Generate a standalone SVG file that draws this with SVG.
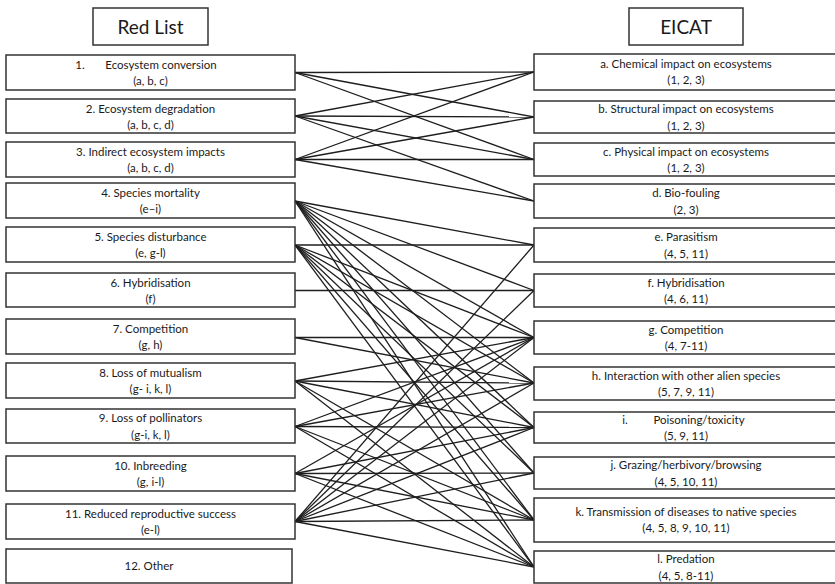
<svg xmlns="http://www.w3.org/2000/svg" width="835" height="584" viewBox="0 0 835 584">
<style>
.bx{fill:#fff;stroke:#333;stroke-width:1.5}
.t{font-family:Lato,"Open Sans",sans-serif;font-size:11.5px;fill:#1a1a1a;text-anchor:middle}
.h{font-family:Lato,"Open Sans",sans-serif;font-size:19px;fill:#1a1a1a;text-anchor:middle}
.c line{stroke:#1e1e1e;stroke-width:1.3}
</style>
<rect width="835" height="584" fill="#fff"/>
<g id="connectors" class="c">
<line x1="295" y1="72.5" x2="534" y2="72"/>
<line x1="295" y1="72.5" x2="534" y2="117"/>
<line x1="295" y1="72.5" x2="534" y2="159.5"/>
<line x1="295" y1="116" x2="534" y2="72"/>
<line x1="295" y1="116" x2="534" y2="117"/>
<line x1="295" y1="116" x2="534" y2="159.5"/>
<line x1="295" y1="116" x2="534" y2="201"/>
<line x1="295" y1="159.5" x2="534" y2="72"/>
<line x1="295" y1="159.5" x2="534" y2="117"/>
<line x1="295" y1="159.5" x2="534" y2="159.5"/>
<line x1="295" y1="159.5" x2="534" y2="201"/>
<line x1="295" y1="201" x2="534" y2="245"/>
<line x1="295" y1="201" x2="534" y2="290.5"/>
<line x1="295" y1="201" x2="534" y2="337.5"/>
<line x1="295" y1="201" x2="534" y2="383"/>
<line x1="295" y1="201" x2="534" y2="427.5"/>
<line x1="295" y1="201" x2="534" y2="473"/>
<line x1="295" y1="201" x2="534" y2="520"/>
<line x1="295" y1="201" x2="534" y2="567"/>
<line x1="295" y1="245" x2="534" y2="245"/>
<line x1="295" y1="245" x2="534" y2="337.5"/>
<line x1="295" y1="245" x2="534" y2="383"/>
<line x1="295" y1="245" x2="534" y2="427.5"/>
<line x1="295" y1="245" x2="534" y2="473"/>
<line x1="295" y1="245" x2="534" y2="520"/>
<line x1="295" y1="245" x2="534" y2="567"/>
<line x1="295" y1="290.5" x2="534" y2="290.5"/>
<line x1="295" y1="337.5" x2="534" y2="337.5"/>
<line x1="295" y1="337.5" x2="534" y2="383"/>
<line x1="295" y1="381" x2="534" y2="337.5"/>
<line x1="295" y1="381" x2="534" y2="383"/>
<line x1="295" y1="381" x2="534" y2="427.5"/>
<line x1="295" y1="381" x2="534" y2="520"/>
<line x1="295" y1="381" x2="534" y2="567"/>
<line x1="295" y1="426.5" x2="534" y2="337.5"/>
<line x1="295" y1="426.5" x2="534" y2="383"/>
<line x1="295" y1="426.5" x2="534" y2="427.5"/>
<line x1="295" y1="426.5" x2="534" y2="520"/>
<line x1="295" y1="426.5" x2="534" y2="567"/>
<line x1="295" y1="473.5" x2="534" y2="337.5"/>
<line x1="295" y1="473.5" x2="534" y2="427.5"/>
<line x1="295" y1="473.5" x2="534" y2="473"/>
<line x1="295" y1="473.5" x2="534" y2="520"/>
<line x1="295" y1="473.5" x2="534" y2="567"/>
<line x1="295" y1="521.5" x2="534" y2="245"/>
<line x1="295" y1="521.5" x2="534" y2="290.5"/>
<line x1="295" y1="521.5" x2="534" y2="337.5"/>
<line x1="295" y1="521.5" x2="534" y2="383"/>
<line x1="295" y1="521.5" x2="534" y2="427.5"/>
<line x1="295" y1="521.5" x2="534" y2="473"/>
<line x1="295" y1="521.5" x2="534" y2="520"/>
<line x1="295" y1="521.5" x2="534" y2="567"/>
</g>

<g id="hdr-redlist"><rect class="bx" x="93" y="8" width="115" height="37"/><text class="h" x="150.5" y="34">Red List</text></g>
<g id="hdr-eicat"><rect class="bx" x="629" y="8" width="114" height="37"/><text class="h" x="686" y="34">EICAT</text></g>

<g id="r1"><rect class="bx" x="6" y="55" width="289" height="35"/><text class="t" x="150.5" y="68.5"><tspan x="80">1.</tspan><tspan x="161">Ecosystem conversion</tspan></text><text class="t" x="150.5" y="85">(a, b, c)</text></g>
<g id="r2"><rect class="bx" x="6" y="99" width="289" height="34"/><text class="t" x="150.5" y="112.5">2. Ecosystem degradation</text><text class="t" x="150.5" y="129">(a, b, c, d)</text></g>
<g id="r3"><rect class="bx" x="6" y="142" width="289" height="35"/><text class="t" x="150.5" y="155.5">3. Indirect ecosystem impacts</text><text class="t" x="150.5" y="172">(a, b, c, d)</text></g>
<g id="r4"><rect class="bx" x="6" y="183" width="289" height="35"/><text class="t" x="150.5" y="196.5">4. Species mortality</text><text class="t" x="150.5" y="213">(e–i)</text></g>
<g id="r5"><rect class="bx" x="6" y="227" width="289" height="35"/><text class="t" x="150.5" y="240.5">5. Species disturbance</text><text class="t" x="150.5" y="257">(e, g-l)</text></g>
<g id="r6"><rect class="bx" x="6" y="273" width="289" height="34"/><text class="t" x="150.5" y="286.5">6. Hybridisation</text><text class="t" x="150.5" y="303">(f)</text></g>
<g id="r7"><rect class="bx" x="6" y="319" width="289" height="35"/><text class="t" x="150.5" y="332.5">7. Competition</text><text class="t" x="150.5" y="349">(g, h)</text></g>
<g id="r8"><rect class="bx" x="6" y="363" width="289" height="35"/><text class="t" x="150.5" y="376.5">8. Loss of mutualism</text><text class="t" x="150.5" y="393">(g- i, k, l)</text></g>
<g id="r9"><rect class="bx" x="6" y="409" width="289" height="34"/><text class="t" x="150.5" y="422">9. Loss of pollinators</text><text class="t" x="150.5" y="438.5">(g-i, k, l)</text></g>
<g id="r10"><rect class="bx" x="6" y="456" width="289" height="35"/><text class="t" x="150.5" y="469.5">10. Inbreeding</text><text class="t" x="150.5" y="486">(g, i-l)</text></g>
<g id="r11"><rect class="bx" x="6" y="504" width="289" height="35"/><text class="t" x="150.5" y="517.5">11. Reduced reproductive success</text><text class="t" x="150.5" y="534">(e-l)</text></g>
<g id="r12"><rect class="bx" x="6" y="549" width="286" height="34"/><text class="t" x="149" y="570">12. Other</text></g>

<g id="ea"><rect class="bx" x="534" y="54" width="304" height="36"/><text class="t" x="686" y="67.5">a. Chemical impact on ecosystems</text><text class="t" x="686" y="84">(1, 2, 3)</text></g>
<g id="eb"><rect class="bx" x="534" y="101" width="304" height="32"/><text class="t" x="686" y="113">b. Structural impact on ecosystems</text><text class="t" x="686" y="129.5">(1, 2, 3)</text></g>
<g id="ec"><rect class="bx" x="534" y="143" width="304" height="33"/><text class="t" x="686" y="155.5">c. Physical impact on ecosystems</text><text class="t" x="686" y="172">(1, 2, 3)</text></g>
<g id="ed"><rect class="bx" x="534" y="184" width="304" height="34"/><text class="t" x="686" y="197">d. Bio-fouling</text><text class="t" x="686" y="213.5">(2, 3)</text></g>
<g id="ee"><rect class="bx" x="534" y="228" width="304" height="34"/><text class="t" x="686" y="241">e. Parasitism</text><text class="t" x="686" y="257.5">(4, 5, 11)</text></g>
<g id="ef"><rect class="bx" x="534" y="274" width="304" height="33"/><text class="t" x="686" y="286.5">f. Hybridisation</text><text class="t" x="686" y="303">(4, 6, 11)</text></g>
<g id="eg"><rect class="bx" x="534" y="321" width="304" height="33"/><text class="t" x="686" y="333.5">g. Competition</text><text class="t" x="686" y="350">(4, 7-11)</text></g>
<g id="eh"><rect class="bx" x="534" y="367" width="304" height="33"/><text class="t" x="686" y="379.5">h. Interaction with other alien species</text><text class="t" x="686" y="396">(5, 7, 9, 11)</text></g>
<g id="ei"><rect class="bx" x="534" y="412" width="304" height="31"/><text class="t" x="686" y="423.5"><tspan x="625">i.</tspan><tspan x="699">Poisoning/toxicity</tspan></text><text class="t" x="686" y="440">(5, 9, 11)</text></g>
<g id="ej"><rect class="bx" x="534" y="457" width="304" height="32"/><text class="t" x="686" y="469">j. Grazing/herbivory/browsing</text><text class="t" x="686" y="485.5">(4, 5, 10, 11)</text></g>
<g id="ek"><rect class="bx" x="534" y="498" width="304" height="44"/><text class="t" x="686" y="516">k. Transmission of diseases to native species</text><text class="t" x="686" y="532">(4, 5, 8, 9, 10, 11)</text></g>
<g id="el"><rect class="bx" x="534" y="551" width="304" height="32"/><text class="t" x="686" y="563">l. Predation</text><text class="t" x="686" y="579.5">(4, 5, 8-11)</text></g>
</svg>
